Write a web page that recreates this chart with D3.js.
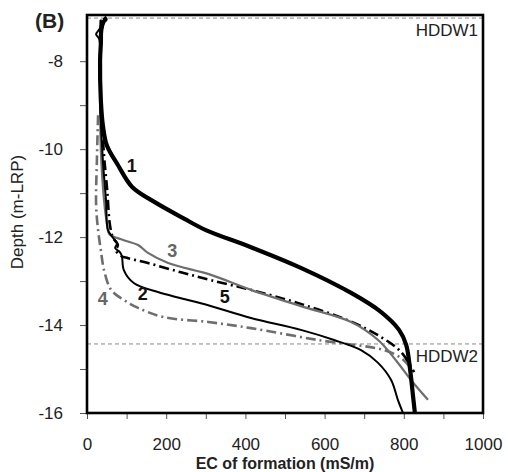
<!DOCTYPE html>
<html>
<head>
<meta charset="utf-8">
<script src="https://cdn.jsdelivr.net/npm/d3@7"></script>
<style>
  body { margin: 0; background: #fff; }
  text { font-family: Arial, "Liberation Sans", sans-serif; }
</style>
</head>
<body>
<svg id="chart"></svg>
<script>
// EC of formation (mS/m) vs depth (m-LRP)
var ec1 = [43, 47, 42, 36, 35, 33, 35, 40, 50, 78, 114, 170, 245, 300, 414, 540, 667, 742, 788, 806, 816, 823, 828];
var dep1 = [-7.0, -7.05, -7.1, -7.3, -7.6, -7.98, -8.89, -9.45, -9.91, -10.36, -10.86, -11.2, -11.58, -11.84, -12.23, -12.70, -13.27, -13.70, -14.11, -14.45, -15.02, -15.59, -16.0];

var ec2 = [35, 33, 23, 31, 33, 40, 48, 53, 66, 76, 71, 83, 88, 93, 119, 179, 237, 306, 414, 540, 624, 692, 735, 768, 785, 798];
var dep2 = [-7.05, -7.25, -7.39, -7.5, -8.89, -10.25, -11.16, -11.84, -12.02, -12.14, -12.25, -12.34, -12.43, -12.75, -13.05, -13.25, -13.39, -13.55, -13.84, -14.11, -14.34, -14.57, -14.86, -15.25, -15.70, -16.0];

var ec3 = [35, 33, 35, 43, 51, 56, 93, 129, 154, 205, 313, 414, 540, 667, 735, 780, 818, 861];
var dep3 = [-7.07, -8.43, -10.02, -11.16, -11.73, -11.93, -12.07, -12.18, -12.36, -12.59, -12.86, -13.20, -13.57, -13.93, -14.34, -14.80, -15.25, -15.70];

var ec4 = [28, 25, 23, 28, 35, 43, 61, 93, 129, 194, 306, 414, 583, 750, 793, 818];
var dep4 = [-9.23, -10.25, -11.27, -11.84, -12.30, -12.75, -13.20, -13.43, -13.61, -13.82, -13.93, -14.07, -14.34, -14.57, -14.75, -14.98];

var ec5 = [35, 35, 43, 51, 58, 66, 78, 73, 86, 104, 154, 237, 313, 414, 540, 667, 742, 793, 826];
var dep5 = [-7.07, -8.89, -10.14, -10.93, -11.73, -12.02, -12.18, -12.30, -12.43, -12.48, -12.59, -12.80, -12.98, -13.20, -13.52, -13.92, -14.27, -14.61, -15.07];

var curveNames = ["1", "2", "3", "4", "5"];
var labelEC = [113, 141, 215, 40, 348];
var labelDepth = [-10.52, -13.43, -12.45, -13.54, -13.5];

var hddwNames = ["HDDW1", "HDDW2"];
var hddwDepth = [-7.02, -14.43];

var xTicks = [0, 200, 400, 600, 800, 1000];
var xMinor = [100, 300, 500, 700, 900];
var yTicks = [-8, -10, -12, -14, -16];
var yMinor = [-9, -11, -13, -15];

var W = 508, H = 472;
var m = {l: 87, r: 25, t: 15, b: 59};

var svg = d3.select("#chart").attr("width", W).attr("height", H);

var x = d3.scaleLinear().domain([0, 1000]).range([m.l, W - m.r]);
var y = d3.scaleLinear().domain([-16, -6.95]).range([H - m.b, m.t]);

// dashed reference depths
svg.selectAll(".hddw")
  .data(hddwDepth)
  .join("line")
  .attr("class", "hddw")
  .attr("x1", x(0)).attr("x2", x(1000))
  .attr("y1", d => y(d)).attr("y2", d => y(d))
  .attr("stroke", "#888")
  .attr("stroke-width", 1)
  .attr("stroke-dasharray", "4,3");

svg.selectAll(".hddwlab")
  .data(hddwNames)
  .join("text")
  .attr("x", x(1000) - 5)
  .attr("y", (d, i) => y(hddwDepth[i]) + 18)
  .attr("text-anchor", "end")
  .attr("font-size", 17)
  .attr("fill", "#222")
  .text(d => d);

// curves
var styles = [
  {c: "#000", w: 4.2, dash: null},
  {c: "#000", w: 2, dash: null},
  {c: "#6e6e6e", w: 2.2, dash: null},
  {c: "#6e6e6e", w: 2.6, dash: "10,4,2,4"},
  {c: "#000", w: 2.6, dash: "10,4,2,4"}
];
var ecs = [ec1, ec2, ec3, ec4, ec5];
var deps = [dep1, dep2, dep3, dep4, dep5];

var line = d3.line()
  .x(d => x(d[0]))
  .y(d => y(d[1]))
  .curve(d3.curveCatmullRom.alpha(0.5));

// draw order: thin ones first, thick on top
[3, 4, 2, 1, 0].forEach(function(i) {
  var pts = ecs[i].map((v, j) => [v, deps[i][j]]);
  svg.append("path")
    .datum(pts)
    .attr("d", line)
    .attr("fill", "none")
    .attr("stroke", styles[i].c)
    .attr("stroke-width", styles[i].w)
    .attr("stroke-dasharray", styles[i].dash)
    .attr("stroke-linejoin", "round");
});

svg.selectAll(".clab")
  .data(curveNames)
  .join("text")
  .attr("class", "clab")
  .attr("x", (d, i) => x(labelEC[i]))
  .attr("y", (d, i) => y(labelDepth[i]))
  .attr("text-anchor", "middle")
  .attr("font-size", 18)
  .attr("font-weight", "bold")
  .attr("fill", (d, i) => styles[i].c == "#000" ? "#111" : "#666")
  .text(d => d);

// axes
var xAxis = svg.append("g")
  .attr("transform", "translate(0," + y(-16) + ")")
  .call(d3.axisBottom(x).tickValues(xTicks).tickSize(6).tickPadding(19).tickFormat(d => d));
var xAxisMinor = svg.append("g")
  .attr("transform", "translate(0," + y(-16) + ")")
  .call(d3.axisBottom(x).tickValues(xMinor).tickSize(6).tickFormat(""));
var yAxis = svg.append("g")
  .attr("transform", "translate(" + x(0) + ",0)")
  .call(d3.axisLeft(y).tickValues(yTicks).tickSize(7).tickPadding(17).tickFormat(d => d));
var yAxisMinor = svg.append("g")
  .attr("transform", "translate(" + x(0) + ",0)")
  .call(d3.axisLeft(y).tickValues(yMinor).tickSize(7).tickFormat(""));

[xAxis, xAxisMinor, yAxis, yAxisMinor].forEach(function(a) {
  a.select(".domain").remove();
  a.selectAll("line").attr("stroke", "#555");
  a.selectAll("text")
    .attr("font-size", 17)
    .attr("fill", "#222")
    .attr("font-family", "Arial, 'Liberation Sans', sans-serif");
});

// frame
svg.append("rect")
  .attr("x", x(0)).attr("y", y(-6.95))
  .attr("width", x(1000) - x(0))
  .attr("height", y(-16) - y(-6.95))
  .attr("fill", "none")
  .attr("stroke", "#000")
  .attr("stroke-width", 2.6);

// titles
svg.append("text")
  .attr("x", (x(0) + x(1000)) / 2)
  .attr("y", 469)
  .attr("text-anchor", "middle")
  .attr("font-size", 16)
  .attr("font-weight", "bold")
  .attr("fill", "#222")
  .text("EC of formation (mS/m)");

svg.append("text")
  .attr("transform", "translate(23,212)rotate(-90)")
  .attr("text-anchor", "middle")
  .attr("font-size", 17)
  .attr("fill", "#222")
  .text("Depth (m-LRP)");

svg.append("text")
  .attr("x", 35)
  .attr("y", 28)
  .attr("font-size", 21)
  .attr("font-weight", "bold")
  .attr("fill", "#222")
  .text("(B)");
</script>
</body>
</html>
